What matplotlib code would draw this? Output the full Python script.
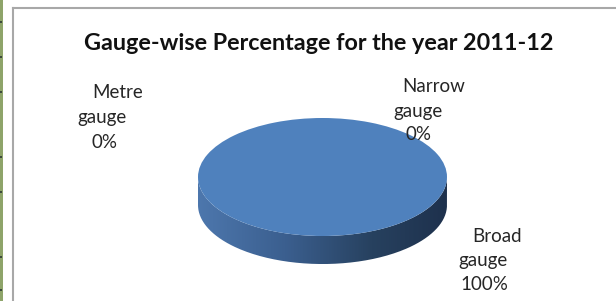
import numpy as np
import matplotlib
matplotlib.use("Agg")
import matplotlib.pyplot as plt
from matplotlib.patches import PathPatch, Rectangle
from matplotlib.path import Path
from matplotlib.colors import LinearSegmentedColormap
from matplotlib.lines import Line2D

# data
categories = ["Metre gauge", "Narrow gauge", "Broad gauge"]
values = [0, 0, 100]
title = "Gauge-wise Percentage for the year 2011-12"

W, H = 616, 301
fig = plt.figure(figsize=(W / 100, H / 100), dpi=100)
fig.patch.set_facecolor("white")


def fx(px):
    return px / W


def fy(py):
    return 1 - py / H


# frame of the sheet / chart area
fig.add_artist(Rectangle((0, 0), fx(3), 1, transform=fig.transFigure,
                         facecolor="#8ea46a", edgecolor="none"))
for ty in [22, 57, 92, 157, 192, 257, 290]:
    fig.add_artist(Rectangle((0, fy(ty + 1)), fx(2), 2 / H, transform=fig.transFigure,
                             facecolor="#3c4a3c", edgecolor="none"))
fig.add_artist(Line2D([fx(12.5), fx(12.5)], [0, fy(7.5)], transform=fig.transFigure,
                      color="#a8a8a8", lw=1.5))
fig.add_artist(Line2D([fx(12.5), 1], [fy(7.5), fy(7.5)], transform=fig.transFigure,
                      color="#a8a8a8", lw=1.5))

# pie axes: top face ellipse, then side thickness below
thick = 0.475
left, right, top = 198, 447, 118
ry = 59
bottom = top + (2 + thick) * ry
ax = fig.add_axes([fx(left), fy(bottom), fx(right - left), (bottom - top) / H])

# side of the 3D pie with a left-to-right shading
t = np.linspace(np.pi, 2 * np.pi, 200)
xs = np.concatenate([np.cos(t), np.cos(t[::-1])])
ys = np.concatenate([np.sin(t), np.sin(t[::-1]) - thick])
side = PathPatch(Path(np.column_stack([xs, ys])), facecolor="none", edgecolor="none")
ax.add_patch(side)
shade = LinearSegmentedColormap.from_list(
    "side", [(0, "#4d77ad"), (0.35, "#3b5f8f"), (0.7, "#27415f"), (1, "#1e314d")])
grad = np.linspace(0, 1, 256).reshape(1, -1)
im = ax.imshow(grad, cmap=shade, extent=[-1, 1, -1 - thick, 0], aspect="auto",
               interpolation="bilinear", zorder=1)
im.set_clip_path(side)

wedges, _ = ax.pie(values, colors=["#4f81bd"] * len(values), startangle=90,
                   counterclock=False, wedgeprops=dict(linewidth=0))
for w in wedges:
    w.set_zorder(2)
ax.set_aspect("auto")
ax.set_xlim(-1, 1)
ax.set_ylim(-1 - thick, 1)
ax.axis("off")

# title
fig.text(fx(318.5), fy(50), title, ha="center", va="baseline",
         fontsize=16.8, fontweight="bold", family="Lato", color="#111111")

# data labels (name split over two lines + percentage)
total = sum(values)
pct = [f"{v / total * 100:.0f}%" for v in values]
label_lines = [[c.split()[0], c.split()[1], p] for c, p in zip(categories, pct)]
line_pos = [
    [(92, 98), (77, 123), (92, 148)],
    [(402, 92), (393, 117), (406, 140)],
    [(472, 242), (458, 266), (460, 290)],
]
for lines, pos in zip(label_lines, line_pos):
    for txt, (px, py) in zip(lines, pos):
        fig.text(fx(px), fy(py), txt, ha="left", va="baseline",
                 fontsize=13.5, family="Lato", color="#262626")

fig.savefig("out.png", dpi=100, facecolor="white")
